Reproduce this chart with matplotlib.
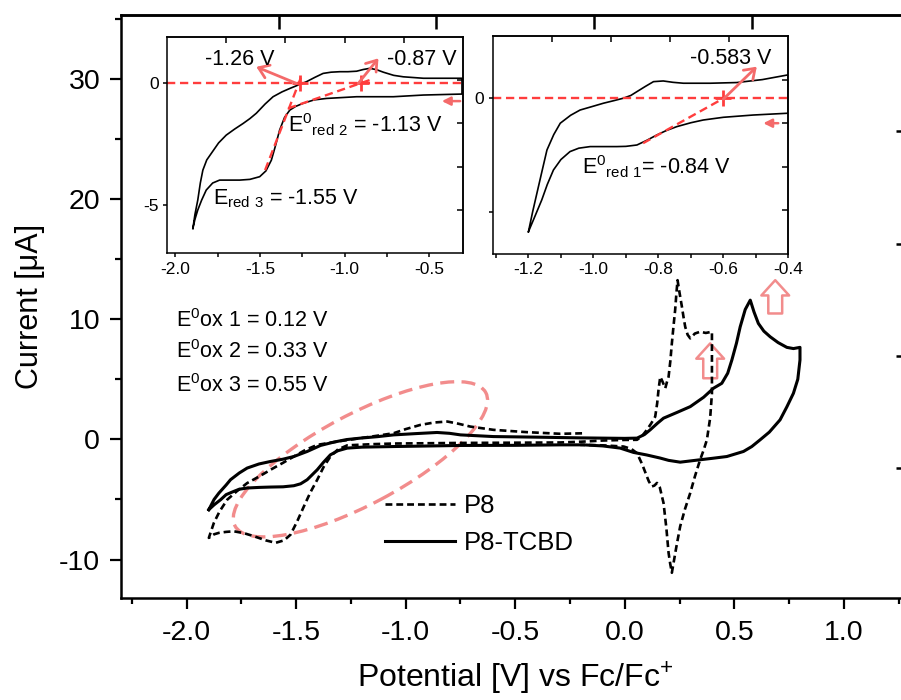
import matplotlib
matplotlib.use("Agg")
import matplotlib.pyplot as plt
from matplotlib.patches import Ellipse, FancyArrowPatch
from matplotlib.transforms import ScaledTranslation
from matplotlib.ticker import MultipleLocator, FormatStrFormatter, NullLocator

plt.rcParams['font.family'] = ['Liberation Sans', 'DejaVu Sans']
plt.rcParams['mathtext.fontset'] = 'custom'
plt.rcParams['mathtext.rm'] = 'Liberation Sans'
plt.rcParams['axes.unicode_minus'] = False

# P8 (dashed), potential [V] and current [uA]
p8_v = [-0.195, -0.294, -0.45, -0.6, -0.705, -0.76, -0.81, -0.87, -0.933, -1.0, -1.055, -1.13,
        -1.207, -1.3, -1.404, -1.46, -1.511, -1.56, -1.617, -1.67, -1.724, -1.77, -1.815, -1.85,
        -1.876, -1.899,
        -1.875, -1.853, -1.82, -1.785, -1.74, -1.693, -1.64, -1.594, -1.555, -1.526, -1.495,
        -1.465, -1.435, -1.404, -1.375, -1.344, -1.31, -1.267, -1.15, -1.055, -0.75, -0.5,
        -0.294, -0.2, -0.1, 0.0, 0.056, 0.08, 0.101, 0.12, 0.139, 0.148, 0.154, 0.162, 0.17,
        0.185, 0.193, 0.2, 0.208, 0.215, 0.223, 0.23, 0.236, 0.241, 0.25, 0.261, 0.268, 0.276,
        0.287, 0.299, 0.32, 0.344, 0.37, 0.398,
        0.398, 0.398, 0.398, 0.39, 0.375, 0.36, 0.344, 0.32, 0.299, 0.275, 0.253, 0.235, 0.215,
        0.207, 0.2, 0.19, 0.177, 0.16, 0.147, 0.135, 0.124, 0.11, 0.101, 0.08, 0.056, 0.03,
        -0.005, -0.1, -0.203]
p8_i = [0.5, 0.46, 0.6, 0.79, 1.06, 1.3, 1.48, 1.4, 1.2, 0.85, 0.51, 0.3,
        0.1, -0.15, -0.46, -0.9, -1.43, -1.95, -2.53, -3.1, -3.64, -4.3, -5.02, -6.0,
        -6.95, -8.2,
        -7.9, -7.78, -7.7, -7.65, -7.8, -8.06, -8.4, -8.61, -8.4, -7.93, -6.8,
        -5.58, -4.4, -3.36, -2.3, -1.43, -0.85, -0.5, -0.4, -0.35, -0.3, -0.28,
        -0.26, -0.2, -0.1, -0.05, -0.04, 0.3, 0.79, 1.3, 1.89, 3.0, 4.1, 5.2, 4.9,
        4.25, 4.8, 5.2, 6.5, 7.98, 9.5, 10.75, 12.2, 13.24, 12.2, 11.02, 10.2, 9.36,
        8.7, 8.4, 8.8, 8.95, 8.85, 8.95,
        7.7, 5.5, 3.83, 1.8, -0.04, -0.9, -1.7, -3.1, -4.46, -5.8, -7.24, -9.0, -11.1,
        -10.3, -9.44, -7.4, -5.3, -4.0, -3.63, -3.85, -3.92, -3.5, -3.09, -2.1, -1.15, -0.8,
        -0.6, -0.5, -0.46]

# P8-TCBD (solid)
tcbd_v = [-1.899, -1.875, -1.853, -1.82, -1.80, -1.76, -1.724, -1.67, -1.617, -1.56, -1.511,
          -1.45, -1.389, -1.328, -1.27, -1.207, -1.13, -1.055, -0.95, -0.857, -0.80, -0.75,
          -0.6, -0.4, -0.2, 0.0, 0.056, 0.09, 0.116, 0.15, 0.177, 0.24, 0.299, 0.36, 0.405,
          0.443, 0.47, 0.489, 0.51, 0.527, 0.55, 0.573, 0.59, 0.61, 0.635, 0.664, 0.70, 0.74,
          0.77, 0.80,
          0.80, 0.79, 0.77, 0.74, 0.709, 0.66, 0.618, 0.58, 0.542, 0.466, 0.40, 0.344, 0.253,
          0.20, 0.162, 0.10, 0.04, -0.021, -0.1, -0.188, -0.294, -0.5, -0.75, -1.055, -1.2,
          -1.267, -1.31, -1.344, -1.375, -1.404, -1.43, -1.45, -1.48, -1.511, -1.56, -1.617,
          -1.67, -1.724, -1.76, -1.785, -1.82, -1.845, -1.875, -1.899]
tcbd_i = [-5.85, -5.0, -4.47, -3.8, -3.36, -2.8, -2.39, -2.05, -1.84, -1.65, -1.43,
          -1.01, -0.51, -0.23, -0.02, 0.1, 0.22, 0.37, 0.48, 0.57, 0.5, 0.37,
          0.23, 0.18, 0.12, 0.08, 0.1, 0.4, 0.79, 1.35, 1.76, 2.25, 2.72, 3.5, 4.25,
          4.66, 5.5, 6.6, 8.0, 9.36, 10.8, 11.58, 10.6, 9.64, 9.0, 8.53, 8.05, 7.65,
          7.55, 7.65,
          6.6, 5.0, 3.83, 2.7, 1.62, 0.6, -0.04, -0.6, -1.01, -1.43, -1.58, -1.7, -1.9,
          -1.75, -1.56, -1.3, -1.09, -0.73, -0.55, -0.46, -0.46, -0.5, -0.51, -0.6, -0.65,
          -0.73, -0.95, -1.29, -1.9, -2.53, -3.0, -3.36, -3.7, -3.86, -3.95, -3.97,
          -4.0, -4.05, -4.15, -4.33, -4.6, -5.02, -5.45, -5.85]

# inset 1: P8-TCBD down to -1.9 V
in1_v = [-1.897, -1.885, -1.868, -1.853, -1.838, -1.815, -1.788, -1.745, -1.70, -1.65, -1.60,
         -1.56, -1.522, -1.47, -1.423, -1.37, -1.324, -1.275, -1.225, -1.175, -1.127, -1.08,
         -1.028, -0.98, -0.929, -0.89, -0.85, -0.81, -0.771, -0.71, -0.653, -0.534, -0.306,
         -0.306, -0.534, -0.712, -0.929, -1.107, -1.18, -1.245, -1.29, -1.324, -1.355, -1.384,
         -1.41, -1.433, -1.465, -1.502, -1.56, -1.62, -1.68, -1.739, -1.78, -1.818, -1.845,
         -1.868, -1.885, -1.897]
in1_i = [-5.97, -5.4, -4.8, -4.1, -3.57, -3.15, -2.88, -2.45, -2.13, -1.88, -1.65,
         -1.45, -1.23, -0.85, -0.55, -0.35, -0.21, -0.07, 0.07, 0.25, 0.41, 0.46,
         0.48, 0.48, 0.5, 0.57, 0.62, 0.56, 0.46, 0.33, 0.27, 0.21, 0.21,
         -0.44, -0.48, -0.55, -0.55, -0.62, -0.68, -0.82, -0.95, -1.1, -1.4, -1.92,
         -2.6, -3.16, -3.6, -3.84, -3.95, -3.98, -3.98, -3.98, -4.1, -4.39, -4.8,
         -5.21, -5.6, -5.97]

# inset 2: P8-TCBD down to -1.2 V
in2_v = [-1.2, -1.187, -1.174, -1.158, -1.143, -1.122, -1.102, -1.07, -1.041, -1.0, -0.969,
         -0.935, -0.908, -0.885, -0.866, -0.84, -0.815, -0.785, -0.755, -0.723, -0.64, -0.559,
         -0.48, -0.4,
         -0.4, -0.508, -0.6, -0.662, -0.7, -0.743, -0.775, -0.805, -0.835, -0.866, -0.9,
         -0.928, -1.01, -1.045, -1.072, -1.1, -1.123, -1.142, -1.159, -1.18, -1.2]
in2_i = [-5.88, -5.0, -4.19, -3.2, -2.28, -1.6, -1.1, -0.75, -0.52, -0.35, -0.22,
         -0.1, 0.0, 0.12, 0.29, 0.52, 0.73, 0.76, 0.7, 0.66, 0.66, 0.69,
         0.82, 1.03,
         -0.66, -0.74, -0.84, -0.96, -1.08, -1.25, -1.42, -1.62, -1.85, -2.06, -2.12,
         -2.13, -2.13, -2.2, -2.35, -2.7, -3.16, -3.8, -4.48, -5.2, -5.88]

ox_labels = [r'E$^\mathregular{0}$ox 1 = 0.12 V',
             r'E$^\mathregular{0}$ox 2 = 0.33 V',
             r'E$^\mathregular{0}$ox 3 = 0.55 V']
ox_label_i = [9.9, 7.3, 4.5]

RED = '#ff3d3d'
PINK = '#f46a6a'
SALMON = '#f28c8c'


def extra_axes(a, xlo, xhi, ylo, yhi, length, width, rlo=None, rstep=None):
    # Origin style top / right axes, ticks only
    top = a.secondary_xaxis('top', functions=(lambda v: (v - xlo) / (xhi - xlo) * 5,
                                              lambda r: xlo + r / 5 * (xhi - xlo)))
    top.set_xticks([1, 2, 3, 4])
    top.set_xticklabels([])
    top.xaxis.set_minor_locator(NullLocator())
    top.tick_params(direction='in', length=length, width=width)
    top.spines['top'].set_linewidth(width)
    if rlo is None:
        rlo, rstep = ylo, (yhi - ylo) / 5
    right = a.secondary_yaxis('right', functions=(lambda i: (i - rlo) / rstep,
                                                  lambda r: rlo + r * rstep))
    right.set_yticks([1, 2, 3, 4])
    right.set_yticklabels([])
    right.yaxis.set_minor_locator(NullLocator())
    right.tick_params(direction='in', length=length, width=width)
    right.spines['right'].set_linewidth(width)


fig = plt.figure(figsize=(9.01, 7.0), dpi=100)
ax = fig.add_axes([121 / 901, 102 / 700, 788.5 / 901, 583 / 700])
ax.set_xlim(-2.3, 1.3)
ax.set_ylim(-13.2, 35.3)

l_p8, = ax.plot(p8_v, p8_i, color='black', lw=1.9, linestyle=(0, (2.6, 1.5)), label='P8')
l_tcbd, = ax.plot(tcbd_v, tcbd_i, color='black', lw=2.2, label='P8-TCBD')

ax.xaxis.set_major_locator(MultipleLocator(0.5))
ax.xaxis.set_minor_locator(MultipleLocator(0.25))
ax.xaxis.set_major_formatter(FormatStrFormatter('%.1f'))
ax.yaxis.set_major_locator(MultipleLocator(10))
ax.yaxis.set_minor_locator(MultipleLocator(5))
ax.tick_params(which='major', direction='out', length=8, width=1.6, labelsize=20.5, pad=8)
ax.tick_params(which='minor', direction='out', length=4.5, width=1.6)
ax.tick_params(axis='y', which='major', pad=7)
for s in ax.spines.values():
    s.set_linewidth(1.8)
ax.set_xlabel('Potential [V] vs Fc/Fc$^\\mathregular{+}$', fontsize=23, labelpad=9)
ax.set_ylabel('Current [\u03bcA]', fontsize=22, labelpad=10)
extra_axes(ax, -2.3, 1.3, -13.2, 35.3, 10, 1.8, rlo=-11.7, rstep=9.33)

for txt, yi in zip(ox_labels, ox_label_i):
    ax.text(-2.05, yi, txt, fontsize=15.5, va='center', ha='left')

ell = Ellipse((0, 0), width=2.84, height=0.90, angle=28, fill=False, edgecolor=SALMON,
              lw=2.4, linestyle=(0, (4.2, 2.2)),
              transform=fig.dpi_scale_trans + ScaledTranslation(-1.207, -1.66, ax.transData))
ax.add_artist(ell)

for v, i0, i1 in [(0.39, 5.08, 7.98), (0.687, 10.47, 13.24)]:
    ax.add_patch(FancyArrowPatch((v, i0), (v, i1),
                                 arrowstyle='simple,head_length=1.1,head_width=2.0,tail_width=1.0',
                                 mutation_scale=10, facecolor='none', edgecolor=SALMON, lw=1.8,
                                 shrinkA=0, shrinkB=0))

ax.legend(handles=[l_p8, l_tcbd], loc='upper left', bbox_to_anchor=(0.335, 0.178),
          frameon=False, fontsize=18.5, handlelength=2.7, handletextpad=0.35,
          borderpad=0, borderaxespad=0, labelspacing=0.5)

# inset 1
a1 = fig.add_axes([167 / 901, (700 - 253.5) / 700, 296 / 901, 216.8 / 700])
a1.set_xlim(-2.05, -0.3)
a1.set_ylim(-7.0, 1.92)
a1.plot(in1_v, in1_i, color='black', lw=1.2)
a1.axhline(0, color=RED, lw=1.7, linestyle=(0, (3.5, 2)))
a1.plot([-1.47, -1.255], [-3.57, 0.3], color=RED, lw=1.7, linestyle=(0, (3.5, 2)))
a1.plot([-1.334, -0.85], [-1.03, 0.14], color=RED, lw=1.7, linestyle=(0, (3.5, 2)))
a1.plot([-1.265, -0.905], [0, 0], '+', color=RED, ms=11, mew=2)
a1.annotate('', xy=(-1.522, 0.68), xytext=(-1.285, 0.0),
            arrowprops=dict(arrowstyle='->,head_length=0.5,head_width=0.35', color=PINK, lw=2,
                            mutation_scale=14, shrinkA=0, shrinkB=0))
a1.annotate('', xy=(-0.80, 1.03), xytext=(-0.919, 0.0),
            arrowprops=dict(arrowstyle='->,head_length=0.5,head_width=0.35', color=PINK, lw=2,
                            mutation_scale=14, shrinkA=0, shrinkB=0))
a1.annotate('', xy=(-0.425, -0.73), xytext=(-0.317, -0.73),
            arrowprops=dict(arrowstyle='-|>,head_length=0.5,head_width=0.25', color=PINK, lw=1.8,
                            mutation_scale=10, shrinkA=0, shrinkB=0))
a1.text(-1.62, 0.99, '-1.26 V', fontsize=15.5, ha='center', va='center')
a1.text(-0.544, 0.99, '-0.87 V', fontsize=15.5, ha='center', va='center')
a1.text(-1.334, -1.72, r'E$^\mathregular{0}$$_\mathregular{red\ 2}$ = -1.13 V', fontsize=15.5,
        ha='left', va='center')
a1.text(-1.78, -4.73, r'E$_\mathregular{red\ 3}$ = -1.55 V', fontsize=15.5, ha='left', va='center')
a1.xaxis.set_major_locator(MultipleLocator(0.5))
a1.xaxis.set_minor_locator(MultipleLocator(0.25))
a1.xaxis.set_major_formatter(FormatStrFormatter('%.1f'))
a1.set_yticks([0, -5])
a1.set_yticklabels(['0', '-5'])

# inset 2
a2 = fig.add_axes([492.7 / 901, (700 - 254) / 700, 295.6 / 901, 218 / 700])
a2.set_xlim(-1.31, -0.4)
a2.set_ylim(-6.86, 2.74)
a2.plot(in2_v, in2_i, color='black', lw=1.2)
a2.axhline(0, color=RED, lw=1.7, linestyle=(0, (3.5, 2)))
a2.plot([-0.847, -0.59], [-1.98, 0.07], color=RED, lw=1.7, linestyle=(0, (3.5, 2)))
a2.plot([-0.6], [0], '+', color=RED, ms=11, mew=2)
a2.annotate('', xy=(-0.497, 1.39), xytext=(-0.6, -0.04),
            arrowprops=dict(arrowstyle='->,head_length=0.5,head_width=0.35', color=PINK, lw=2,
                            mutation_scale=14, shrinkA=0, shrinkB=0))
a2.annotate('', xy=(-0.477, -1.1), xytext=(-0.431, -1.1),
            arrowprops=dict(arrowstyle='-|>,head_length=0.5,head_width=0.25', color=PINK, lw=1.8,
                            mutation_scale=10, shrinkA=0, shrinkB=0))
a2.text(-0.577, 1.76, '-0.583 V', fontsize=15.5, ha='center', va='center')
a2.text(-1.036, -3.01, r'E$^\mathregular{0}$$_\mathregular{red\ 1}$= -0.84 V', fontsize=15.5,
        ha='left', va='center')
a2.xaxis.set_major_locator(MultipleLocator(0.2))
a2.xaxis.set_minor_locator(MultipleLocator(0.1))
a2.xaxis.set_major_formatter(FormatStrFormatter('%.1f'))
a2.set_yticks([0, -5])
a2.set_yticklabels(['0', ''])

for a, (xlo, xhi), (ylo, yhi) in [(a1, (-2.05, -0.3), (-7.0, 1.92)),
                                  (a2, (-1.31, -0.4), (-6.86, 2.74))]:
    a.set_facecolor('white')
    for s in a.spines.values():
        s.set_linewidth(1.1)
    a.tick_params(which='both', direction='out', length=3, width=1.1, labelsize=12.5, pad=3)
    extra_axes(a, xlo, xhi, ylo, yhi, 4, 1.1)

fig.savefig('out.png', dpi=100)
